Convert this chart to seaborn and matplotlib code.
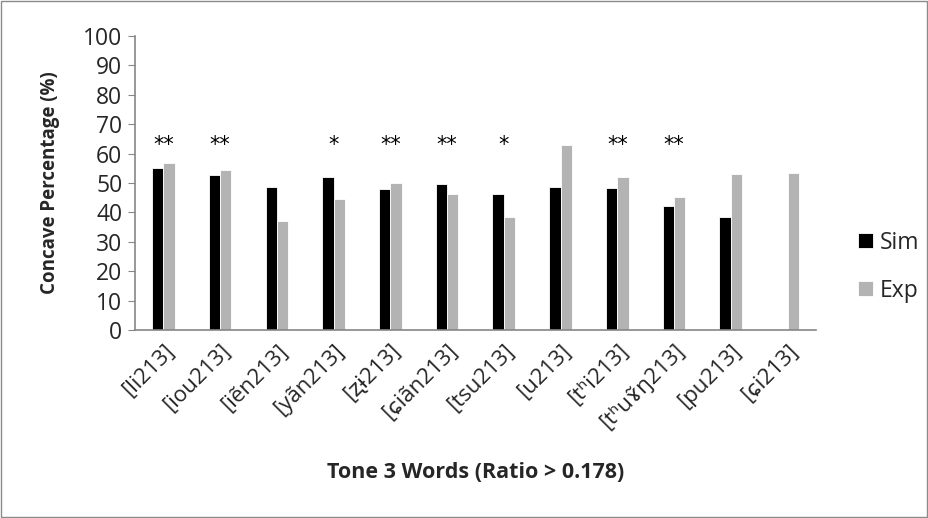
import numpy as np
import pandas as pd
import matplotlib
matplotlib.use("Agg")
import matplotlib.pyplot as plt
import seaborn as sns
from matplotlib.patches import Rectangle


# Tone 3 words: concave percentage, simulated vs experimental
words = ['[li213]', '[iou213]', '[iẽn213]', '[yãn213]', '[ʐɨ213]', '[ɕiãn213]',
         '[tsu213]', '[u213]', '[tʰi213]', '[tʰuɤ̃ŋ213]', '[pu213]', '[ɕi213]']
sim = [55.0, 52.7, 48.5, 51.9, 48.1, 49.7, 46.1, 48.6, 48.3, 42.2, 38.4, np.nan]
exp = [56.9, 54.3, 36.9, 44.7, 49.9, 46.4, 38.4, 62.8, 52.0, 45.1, 52.9, 53.4]
stars = ['**', '**', '', '*', '**', '**', '*', '', '**', '**', '', '']

df = pd.DataFrame({'word': words * 2,
                   'pct': sim + exp,
                   'group': ['Sim'] * len(words) + ['Exp'] * len(words)})

sns.set_style('white')
plt.rcParams['font.family'] = ['Open Sans', 'DejaVu Sans']

fig = plt.figure(figsize=(9.29, 5.18), dpi=100)
ax = fig.add_axes([0.1453, 0.363, 0.7330, 0.5675])

sns.barplot(data=df, x='word', y='pct', hue='group', order=words,
            hue_order=['Sim', 'Exp'], palette={'Sim': 'black', 'Exp': '#b3b3b3'},
            width=0.4, gap=0, edgecolor='white', linewidth=0.6, ax=ax)

ax.set_ylim(0, 100)
ax.set_yticks(range(0, 101, 10))
ax.set_xlim(-0.5, len(words) - 0.5)

# significance marks above the groups
for i, s in enumerate(stars):
    if s:
        ax.text(i, 61.0, s, ha='center', va='baseline', fontsize=15,
                family='DejaVu Sans', color='black')

for side in ['top', 'right']:
    ax.spines[side].set_visible(False)
for side in ['left', 'bottom']:
    ax.spines[side].set_color('#868686')
    ax.spines[side].set_linewidth(1.2)

ax.tick_params(axis='y', left=True, length=5, color='#868686', labelsize=16.5, pad=4)
ax.tick_params(axis='x', bottom=False, labelsize=16, pad=4)
plt.setp(ax.get_xticklabels(), rotation=45, ha='right', rotation_mode='anchor')

ax.set_ylabel('Concave Percentage (%)', fontsize=13.5, fontweight='bold', labelpad=17)
ax.set_xlabel('Tone 3 Words (Ratio > 0.178)', fontsize=15.5, fontweight='bold', labelpad=21)

ax.legend(loc='center left', bbox_to_anchor=(1.045, 0.215), frameon=False,
          fontsize=16.5, handlelength=0.65, handleheight=0.65, handletextpad=0.3,
          labelspacing=1.05, borderpad=0)

fig.patches.append(Rectangle((0.001, 0.002), 0.997, 0.996, transform=fig.transFigure,
                             fill=False, edgecolor='#8a8a8a', linewidth=1))

fig.savefig('out.png', dpi=100)
